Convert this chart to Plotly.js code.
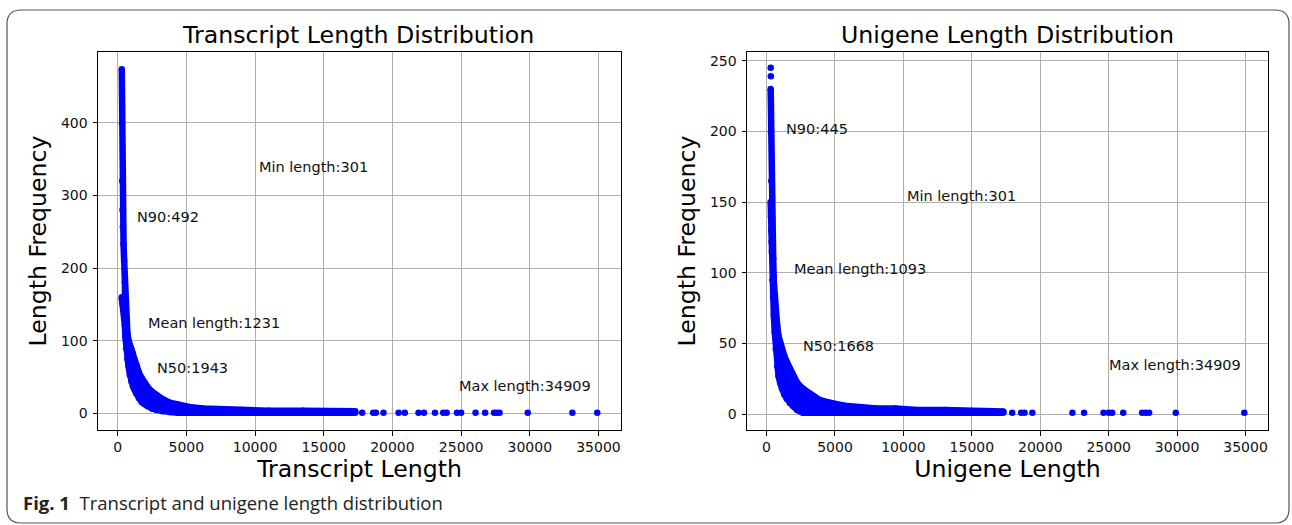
<!DOCTYPE html>
<html><head><meta charset="utf-8">
<script src="https://cdn.plot.ly/plotly-3.0.1.min.js"></script>
<style>html,body{margin:0;padding:0;background:#fff}#chart{width:1292px;height:525px}</style>
</head><body><div id="chart"></div>
<script>
// ---------- data ----------
// Transcript: dense band of (length, frequency) points, given as band edges
const transcriptLength = [301, 315, 330, 355, 380, 430, 475, 525, 570, 620, 710, 800, 900, 1000, 1100, 1200, 1350, 1550, 1750, 1950, 2200, 2500, 2850, 3250, 3800, 4400, 5200, 6200, 7500, 9000, 11000, 13500, 15500, 17300];
const transcriptFreqUpper = [474, 400, 320, 280, 257, 233, 210, 180, 155, 133, 110, 100, 93, 88, 83, 75, 67, 56, 49, 42, 36, 30, 25, 20, 15, 12, 9, 7, 6, 5, 4, 4, 3, 3];
const transcriptFreqLower = [160, 158, 156, 153, 150, 143, 133, 122, 105, 90, 75, 65, 53, 44, 38, 34, 28, 21, 16, 13, 10, 7, 5, 3, 2, 1, 1, 1, 1, 1, 1, 1, 1, 1];
const transcriptTailLength = [17800, 18600, 18800, 19350, 20450, 20900, 21900, 22300, 23100, 23700, 23950, 24700, 25000, 26050, 26750, 27400, 27600, 27800, 29850, 33100, 34909];
const transcriptTailFreq = [1, 1, 1, 1, 1, 1, 1, 1, 1, 1, 1, 1, 1, 1, 1, 1, 1, 1, 1, 1, 1];

// Unigene
const unigenePeakLength = [305, 312];
const unigenePeakFreq = [245, 239];
const unigeneLength = [301, 320, 345, 370, 390, 430, 483, 534, 600, 680, 780, 878, 1000, 1120, 1300, 1480, 1700, 1920, 2250, 2660, 3200, 3900, 4700, 5700, 6970, 8000, 9400, 11000, 13000, 15000, 17300];
const unigeneFreqUpper = [230, 200, 165, 145, 128, 118, 110, 93, 80, 70, 62, 55, 50, 46, 41, 37, 32, 27, 22, 18, 14, 10, 8, 6, 5, 4, 4, 3, 3, 2, 2];
const unigeneFreqLower = [150, 140, 130, 122, 115, 95, 82, 70, 58, 46, 34, 27, 22, 18, 14, 11, 8, 6, 3, 1, 1, 1, 1, 1, 1, 1, 1, 1, 1, 1, 1];
const unigeneTailLength = [17950, 18600, 18850, 19420, 22350, 23200, 24620, 25000, 25250, 26060, 27440, 27700, 27950, 29900, 34909];
const unigeneTailFreq = [1, 1, 1, 1, 1, 1, 1, 1, 1, 1, 1, 1, 1, 1, 1];

const xTickValues = [0, 5000, 10000, 15000, 20000, 25000, 30000, 35000];
const xTickLabels = ['0', '5000', '10000', '15000', '20000', '25000', '30000', '35000'];
const yTickTranscript = [0, 100, 200, 300, 400];
const yTickUnigene = [0, 50, 100, 150, 200, 250];

const transcriptStatLabels = ["Min length:301", "N90:492", "Mean length:1231", "N50:1943", "Max length:34909"];
const unigeneStatLabels = ["N90:445", "Min length:301", "Mean length:1093", "N50:1668", "Max length:34909"];

// ---------- layout helpers ----------
const W = 1292, H = 525;
const M = {l: 98, r: 24, t: 52, b: 95};
const PW = W - M.l - M.r, PH = H - M.t - M.b;
const px = (x) => (x - M.l) / PW;
const py = (y) => (H - M.b - y) / PH;

const BLUE = '#0000ff';
const FONT = 'DejaVu Sans';
const MS = 6.5;

function band(xs, lo, hi, xa, ya) {
  return [
    {x: xs, y: lo, xaxis: xa, yaxis: ya, mode: 'lines+markers', type: 'scatter',
     line: {color: BLUE, width: MS}, marker: {color: BLUE, size: MS}, hoverinfo: 'x+y', showlegend: false},
    {x: xs, y: hi, xaxis: xa, yaxis: ya, mode: 'lines+markers', type: 'scatter', fill: 'tonexty', fillcolor: BLUE,
     line: {color: BLUE, width: MS}, marker: {color: BLUE, size: MS}, hoverinfo: 'x+y', showlegend: false}
  ];
}
function dots(xs, ys, xa, ya) {
  return {x: xs, y: ys, xaxis: xa, yaxis: ya, mode: 'markers', type: 'scatter',
          marker: {color: BLUE, size: MS}, showlegend: false};
}

const traces = [
  ...band(transcriptLength, transcriptFreqLower, transcriptFreqUpper, 'x', 'y'),
  dots(transcriptTailLength, transcriptTailFreq, 'x', 'y'),
  ...band(unigeneLength, unigeneFreqLower, unigeneFreqUpper, 'x2', 'y2'),
  dots(unigenePeakLength, unigenePeakFreq, 'x2', 'y2'),
  dots(unigeneTailLength, unigeneTailFreq, 'x2', 'y2')
];

const tickFont = {family: FONT, size: 14, color: '#111'};
const axisTitleFont = {family: FONT, size: 23.6, color: '#000'};

function xAxis(domain, title, anchor) {
  return {domain: domain, anchor: anchor, range: [-1429, 36639], tickvals: xTickValues, ticktext: xTickLabels,
    ticks: 'outside', ticklen: 4.5, tickwidth: 1, tickcolor: '#000',
    showline: true, mirror: true, linecolor: '#000', linewidth: 1,
    showgrid: true, gridcolor: '#b0b0b0', gridwidth: 1, zeroline: false,
    tickfont: tickFont,
    title: {text: title, font: axisTitleFont, standoff: 3}};
}
function yAxis(range, ticks, anchor) {
  return {domain: [0, 1], anchor: anchor, range: range, tickvals: ticks,
    ticks: 'outside', ticklen: 4.5, tickwidth: 1, tickcolor: '#000', ticklabelstandoff: 2,
    showline: true, mirror: true, linecolor: '#000', linewidth: 1,
    showgrid: true, gridcolor: '#b0b0b0', gridwidth: 1, zeroline: false,
    tickfont: tickFont,
    title: {text: 'Length Frequency', font: axisTitleFont, standoff: 7}};
}

const statFont = {family: FONT, size: 14.5, color: '#111'};
function stat(text, x, y, xr, yr) {
  return {text: text, x: x, y: y, xref: xr, yref: yr, xanchor: 'left', yanchor: 'middle',
          showarrow: false, font: statFont};
}

const titleFont = {family: FONT, size: 23.7, color: '#000'};
const annotations = [
  {text: 'Transcript Length Distribution', x: px(358), y: py(35), xref: 'paper', yref: 'paper',
   showarrow: false, xanchor: 'center', yanchor: 'middle', font: titleFont},
  {text: 'Unigene Length Distribution', x: px(1007.5), y: py(35), xref: 'paper', yref: 'paper',
   showarrow: false, xanchor: 'center', yanchor: 'middle', font: titleFont},
  stat(transcriptStatLabels[0], 10150, 340, 'x', 'y'),
  stat(transcriptStatLabels[1], 1300, 270, 'x', 'y'),
  stat(transcriptStatLabels[2], 2050, 125, 'x', 'y'),
  stat(transcriptStatLabels[3], 2750, 63, 'x', 'y'),
  stat(transcriptStatLabels[4], 24700, 38, 'x', 'y'),
  stat(unigeneStatLabels[0], 1300, 202, 'x2', 'y2'),
  stat(unigeneStatLabels[1], 10150, 154, 'x2', 'y2'),
  stat(unigeneStatLabels[2], 1880, 103, 'x2', 'y2'),
  stat(unigeneStatLabels[3], 2530, 48, 'x2', 'y2'),
  stat(unigeneStatLabels[4], 24850, 35, 'x2', 'y2'),
  {text: '<b>Fig. 1</b>  Transcript and unigene length distribution', x: px(21), y: py(502),
   xref: 'paper', yref: 'paper', showarrow: false, xanchor: 'left', yanchor: 'middle',
   font: {family: 'Open Sans', size: 18.5, color: '#222'}}
];

// rounded frame around the whole figure
const fx0 = 7, fx1 = 1289, fy0 = 10, fy1 = 523, R = 14;
const P = (x, y) => px(x) + ',' + py(y);
const framePath = 'M' + P(fx0 + R, fy0) + ' L' + P(fx1 - R, fy0) + ' Q' + P(fx1, fy0) + ' ' + P(fx1, fy0 + R) +
  ' L' + P(fx1, fy1 - R) + ' Q' + P(fx1, fy1) + ' ' + P(fx1 - R, fy1) +
  ' L' + P(fx0 + R, fy1) + ' Q' + P(fx0, fy1) + ' ' + P(fx0, fy1 - R) +
  ' L' + P(fx0, fy0 + R) + ' Q' + P(fx0, fy0) + ' ' + P(fx0 + R, fy0) + ' Z';

const layout = {
  width: W, height: H, margin: M, paper_bgcolor: '#fff', plot_bgcolor: '#fff',
  showlegend: false, font: {family: FONT, color: '#000'},
  xaxis: xAxis([0, (621 - M.l) / PW], 'Transcript Length', 'y'),
  yaxis: yAxis([-22.65, 497.65], yTickTranscript, 'x'),
  xaxis2: xAxis([(747 - M.l) / PW, 1], 'Unigene Length', 'y2'),
  yaxis2: yAxis([-11.15, 256.15], yTickUnigene, 'x2'),
  annotations: annotations,
  shapes: [{type: 'path', path: framePath, xref: 'paper', yref: 'paper',
            line: {color: '#555', width: 1.2}, layer: 'above'}]
};

Plotly.newPlot('chart', traces, layout, {displayModeBar: false, staticPlot: true});
</script></body></html>
